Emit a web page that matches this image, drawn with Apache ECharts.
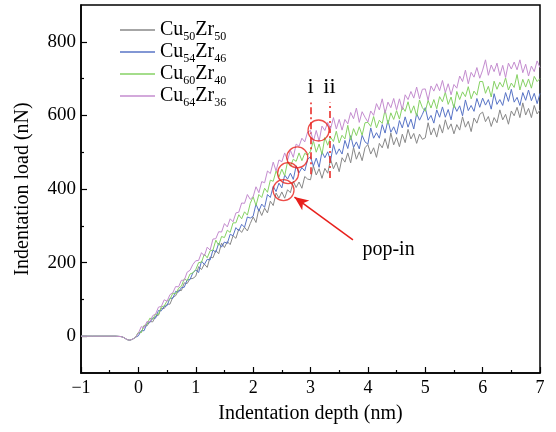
<!DOCTYPE html>
<html>
<head>
<meta charset="utf-8">
<script src="https://cdn.jsdelivr.net/npm/echarts@6/dist/echarts.min.js"></script>
<style>
  html, body { margin: 0; padding: 0; background: #fff; }
  #chart { width: 556px; height: 432px; }
</style>
</head>
<body>
<div id="chart"></div>
<script>
const depth = [
  -1, -0.8, -0.6, -0.4, -0.3, -0.25, -0.2, -0.15, -0.1, -0.05,
  0, 0.05, 0.1, 0.15, 0.2, 0.25, 0.3, 0.35, 0.4, 0.45,
  0.5, 0.55, 0.6, 0.65, 0.7, 0.75, 0.8, 0.85, 0.9, 0.95,
  1, 1.05, 1.1, 1.15, 1.2, 1.25, 1.3, 1.35, 1.4, 1.45,
  1.5, 1.55, 1.6, 1.65, 1.7, 1.75, 1.8, 1.85, 1.9, 1.95,
  2, 2.05, 2.1, 2.15, 2.2, 2.25, 2.3, 2.35, 2.4, 2.45,
  2.5, 2.55, 2.6, 2.65, 2.7, 2.75, 2.8, 2.85, 2.9, 2.95,
  3, 3.05, 3.1, 3.15, 3.2, 3.25, 3.3, 3.35, 3.4, 3.45,
  3.5, 3.55, 3.6, 3.65, 3.7, 3.75, 3.8, 3.85, 3.9, 3.95,
  4, 4.05, 4.1, 4.15, 4.2, 4.25, 4.3, 4.35, 4.4, 4.45,
  4.5, 4.55, 4.6, 4.65, 4.7, 4.75, 4.8, 4.85, 4.9, 4.95,
  5, 5.05, 5.1, 5.15, 5.2, 5.25, 5.3, 5.35, 5.4, 5.45,
  5.5, 5.55, 5.6, 5.65, 5.7, 5.75, 5.8, 5.85, 5.9, 5.95,
  6, 6.05, 6.1, 6.15, 6.2, 6.25, 6.3, 6.35, 6.4, 6.45,
  6.5, 6.55, 6.6, 6.65, 6.7, 6.75, 6.8, 6.85, 6.9, 6.95,
  7
]

// loads (nN) for each composition
const cu50 = [
  0, 0, 0, 0, -1, -4, -9, -11, -8, -3,
  10, 10, 29, 28, 40, 39, 54, 57, 76, 75,
  87, 87, 106, 110, 125, 124, 145, 143, 156, 157,
  163, 189, 181, 196, 187, 215, 213, 233, 224, 253,
  241, 257, 249, 273, 266, 291, 282, 296, 286, 306,
  324, 309, 346, 328, 348, 335, 367, 355, 389, 375,
  392, 375, 398, 390, 421, 404, 419, 402, 434, 427,
  425, 463, 438, 455, 429, 456, 443, 481, 455, 473,
  447, 485, 473, 498, 471, 513, 481, 501, 477, 512,
  521, 495, 512, 486, 524, 512, 537, 510, 552, 520,
  540, 515, 549, 526, 562, 536, 551, 524, 549, 535,
  539, 580, 547, 566, 541, 575, 552, 588, 562, 577,
  550, 575, 560, 596, 568, 584, 556, 593, 579, 603,
  609, 583, 597, 570, 594, 580, 615, 588, 603, 576,
  612, 599, 622, 594, 634, 601, 619, 594, 627, 604,
  615
]

const cu54 = [
  0, 0, 0, 0, -1, -4, -9, -11, -8, -3,
  1, 15, 15, 35, 37, 50, 49, 70, 69, 81,
  83, 103, 103, 122, 120, 132, 133, 153, 154, 172,
  180, 173, 204, 195, 209, 207, 234, 228, 253, 242,
  256, 252, 277, 273, 295, 286, 304, 296, 324, 321,
  326, 359, 340, 359, 350, 385, 377, 407, 393, 416,
  403, 438, 427, 443, 426, 463, 444, 458, 449, 480,
  488, 462, 484, 459, 501, 485, 501, 477, 521, 494,
  509, 495, 532, 510, 545, 513, 528, 509, 546, 528,
  522, 566, 538, 553, 538, 575, 552, 587, 554, 569,
  549, 586, 566, 596, 568, 590, 563, 605, 587, 603,
  621, 587, 600, 579, 615, 595, 623, 595, 616, 588,
  629, 611, 626, 599, 642, 613, 627, 611, 646, 622,
  647, 628, 643, 617, 659, 630, 643, 627, 662, 638,
  671, 636, 649, 627, 662, 641, 669, 640, 660, 632,
  660
]

const cu60 = [
  0, 0, 0, 0, -1, -4, -9, -11, -8, -3,
  10, 10, 29, 32, 49, 46, 60, 59, 80, 82,
  96, 100, 117, 115, 130, 136, 156, 151, 169, 172,
  181, 200, 201, 223, 213, 232, 234, 261, 247, 271,
  268, 288, 282, 308, 308, 330, 319, 338, 329, 361,
  379, 355, 385, 377, 402, 391, 424, 421, 449, 432,
  454, 436, 474, 462, 481, 475, 498, 477, 497, 492,
  503, 531, 500, 522, 494, 540, 519, 541, 529, 557,
  525, 546, 536, 573, 533, 564, 545, 569, 546, 580,
  581, 570, 597, 566, 587, 578, 615, 576, 607, 589,
  613, 590, 623, 611, 637, 606, 626, 598, 642, 621,
  611, 641, 620, 643, 618, 651, 637, 663, 630, 650,
  620, 665, 643, 664, 651, 678, 645, 666, 655, 692,
  692, 660, 679, 650, 693, 671, 690, 677, 702, 669,
  688, 676, 711, 669, 698, 677, 699, 674, 706, 692,
  700
]

const cu64 = [
  0, 0, 0, 0, -1, -4, -9, -11, -8, -3,
  8, 26, 23, 40, 39, 56, 60, 79, 81, 99,
  95, 113, 118, 135, 134, 152, 152, 174, 179, 195,
  205, 206, 227, 218, 242, 234, 264, 265, 284, 283,
  306, 297, 319, 311, 335, 337, 362, 361, 385, 372,
  379, 406, 390, 420, 417, 449, 442, 473, 449, 479,
  474, 498, 478, 505, 486, 522, 516, 538, 528, 555,
  559, 529, 559, 530, 571, 559, 581, 564, 594, 563,
  589, 560, 589, 577, 608, 591, 620, 581, 610, 595,
  582, 612, 600, 632, 615, 645, 606, 636, 621, 646,
  615, 645, 615, 656, 643, 665, 647, 677, 645, 671,
  672, 641, 680, 666, 686, 667, 695, 662, 686, 656,
  684, 674, 707, 692, 723, 686, 717, 704, 730, 701,
  723, 751, 709, 737, 719, 742, 708, 736, 703, 742,
  726, 745, 724, 751, 716, 739, 707, 734, 719, 748,
  730
]

const seriesNames = ['Cu50Zr50', 'Cu54Zr46', 'Cu60Zr40', 'Cu64Zr36']
const seriesColors = ['#888888', '#5874c6', '#86d264', '#c48ccf']
const yLabels = [0, 200, 400, 600, 800]
const yMinor = [100, 300, 500, 700]
const popIns = [[2.53, 397], [2.61, 443], [2.77, 486], [3.14, 559]]
const markI = [[3.0, 440], [3.0, 635]]
const markII = [[3.33, 430], [3.33, 635]]
const arrowLine = [[3.74, 262], [2.72, 378]]
const popInLabel = [4.36, 235]

const FONT = 'Liberation Serif'

function pairs(ys) {
  return ys.map((y, i) => [depth[i], y])
}

function legendText(name) {
  const m = name.match(/Cu(\d+)Zr(\d+)/)
  return '{a|Cu}{s|' + m[1] + '}{a|Zr}{s|' + m[2] + '}'
}

const allSeries = [cu50, cu54, cu60, cu64]

let option = {
  backgroundColor: '#fff',
  animation: false,
  grid: {
    left: 81, right: 16, top: 5, bottom: 59,
    show: true, borderColor: '#000', borderWidth: 1.5,
  },
  legend: {
    data: seriesNames,
    orient: 'vertical',
    left: 115, top: 15,
    icon: 'rect',
    itemWidth: 35, itemHeight: 1.5,
    itemGap: -1,
    formatter: legendText,
    textStyle: {
      rich: {
        a: { fontFamily: FONT, fontSize: 20, color: '#000', lineHeight: 28 },
        s: { fontFamily: FONT, fontSize: 12, color: '#000', padding: [14, 0, 0, 0] },
      },
    },
  },
  xAxis: {
    type: 'value', min: -1, max: 7, interval: 1,
    name: 'Indentation depth (nm)', nameLocation: 'middle', nameGap: 31,
    nameTextStyle: { fontFamily: FONT, fontSize: 20, color: '#000' },
    axisLine: { onZero: false, lineStyle: { color: '#000', width: 1.5 } },
    axisTick: { inside: true, length: 6, lineStyle: { color: '#000', width: 1.2 } },
    minorTick: { show: true, splitNumber: 2, length: 3, lineStyle: { color: '#000', width: 1.2 } },
    axisLabel: {
      fontFamily: FONT, fontSize: 18, color: '#000', margin: 6,
      formatter: (v) => (v < 0 ? '\u2212' + (-v) : String(v)),
    },
    splitLine: { show: false },
  },
  yAxis: [
    {
      type: 'value', min: -100, max: 900,
      name: 'Indentation load (nN)', nameLocation: 'middle', nameGap: 48,
      nameTextStyle: { fontFamily: FONT, fontSize: 20, color: '#000' },
      axisLine: { show: true, onZero: false, lineStyle: { color: '#000', width: 1.5 } },
      axisTick: { inside: true, length: 6, customValues: yLabels, lineStyle: { color: '#000', width: 1.2 } },
      axisLabel: { fontFamily: FONT, fontSize: 19, color: '#000', margin: 5, customValues: yLabels },
      splitLine: { show: false },
    },
    {
      type: 'value', min: -100, max: 900, position: 'left',
      axisLine: { show: false, onZero: false },
      axisTick: { show: true, inside: true, length: 3, customValues: yMinor, lineStyle: { color: '#000', width: 1.2 } },
      axisLabel: { show: false },
      splitLine: { show: false },
    },
  ],
  series: [
    ...allSeries.map((ys, i) => ({
      name: seriesNames[i],
      type: 'line',
      data: pairs(ys),
      showSymbol: false,
      symbol: 'none',
      color: seriesColors[i],
      lineStyle: { width: 1, color: seriesColors[i] },
      z: 2 + i,
    })),
    {
      name: 'popin',
      type: 'scatter',
      data: popIns,
      symbol: 'circle',
      symbolSize: 21,
      itemStyle: { color: 'rgba(0,0,0,0)', borderColor: '#e8201c', borderWidth: 1.3 },
      z: 10,
      silent: true,
    },
    {
      name: 'notes',
      type: 'line',
      data: [],
      z: 10,
      markLine: {
        silent: true,
        animation: false,
        data: [
          [
            { coord: markI[0], symbol: 'none' },
            { coord: markI[1], symbol: 'none', label: { show: true, position: 'end', formatter: 'i' } },
          ],
          [
            { coord: markII[0], symbol: 'none' },
            { coord: markII[1], symbol: 'none', label: { show: true, position: 'end', formatter: 'ii' } },
          ],
          [
            { coord: arrowLine[0], symbol: 'none', lineStyle: { type: 'solid', width: 1.5 } },
            { coord: arrowLine[1], symbol: 'arrow', symbolSize: [9, 14], lineStyle: { type: 'solid', width: 1.5 } },
          ],
        ],
        lineStyle: { color: '#e8201c', width: 1.5, type: [7, 3, 2, 3] },
        label: { show: false, fontFamily: FONT, fontSize: 22, color: '#000', distance: 4 },
      },
      markPoint: {
        silent: true,
        symbol: 'circle', symbolSize: 0,
        data: [{ coord: popInLabel, value: 'pop-in' }],
        label: { show: true, position: 'inside', formatter: 'pop-in', fontFamily: FONT, fontSize: 20, color: '#000' },
      },
    },
  ],
}

const chart = echarts.init(document.getElementById('chart'))
chart.setOption(option)
</script>
</body>
</html>
